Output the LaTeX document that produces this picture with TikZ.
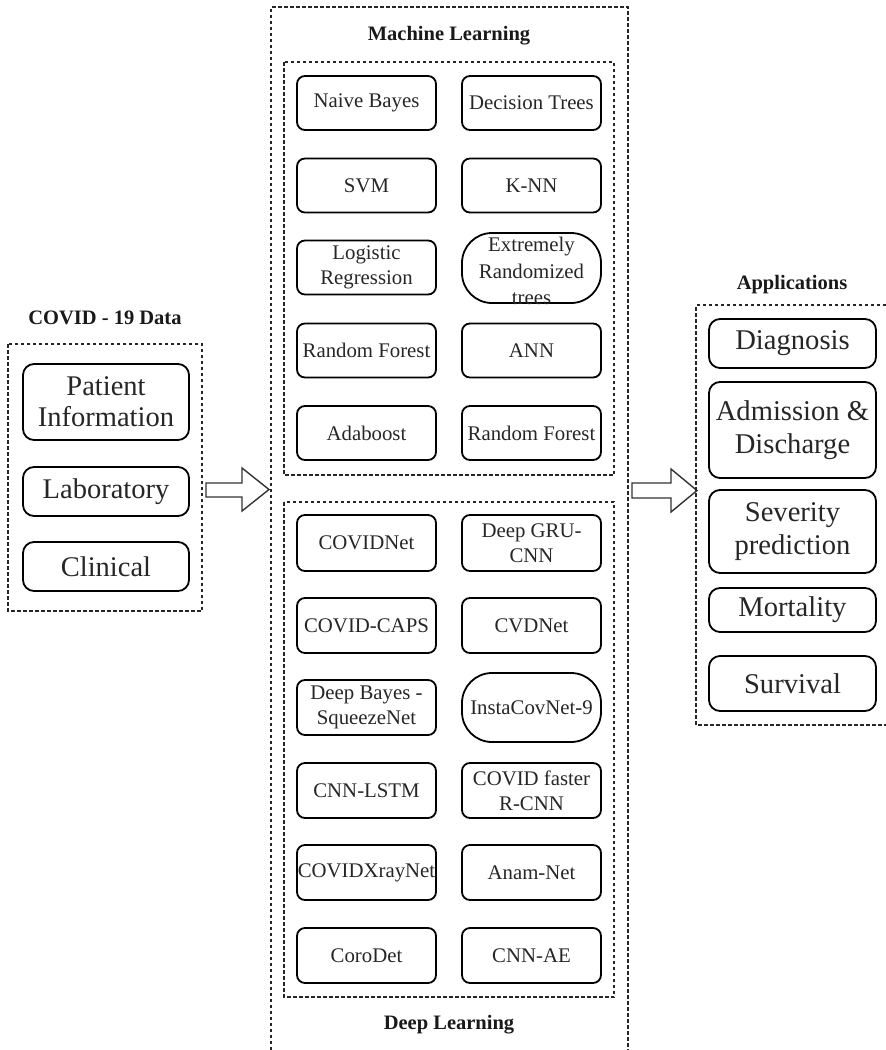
\documentclass[tikz,border=0pt]{standalone}
\usepackage{fontspec}
\setmainfont{Liberation Serif}
\begin{document}
\begin{tikzpicture}[x=1pt,y=-1pt,
  grp/.style={draw=black!85, line width=1.2pt, dash pattern=on 3.5pt off 2.5pt},
  mlbox/.style={draw=black, line width=1.8pt, rounded corners=8pt, inner sep=0pt,
    minimum width=139pt, minimum height=54pt, align=center,
    font=\fontsize{20.8}{25}\selectfont, text=black!85},
  pill/.style={mlbox, rounded corners=30pt},
  databox/.style={draw=black, line width=1.8pt, rounded corners=11pt, inner sep=0pt,
    minimum width=166pt, align=center, font=\fontsize{28.5}{31}\selectfont, text=black!85},
  appbox/.style={draw=black, line width=1.8pt, rounded corners=11pt, inner sep=0pt,
    minimum width=167pt, align=center, font=\fontsize{28.6}{33}\selectfont, text=black!85},
  ttl/.style={font=\fontsize{20.5}{24}\selectfont\bfseries, text=black!90},
  blockarrow/.style={draw=black!80, line width=1.4pt, fill=white, line join=miter}]
\useasboundingbox (0,0) rectangle (886,1050);

% ---------- COVID-19 data ----------
\node[ttl] (tdata) at (105,318) {COVID - 19 Data};
\draw[grp] (8,344) rectangle (202,611);
\node[databox, minimum height=76pt] (patient) at (106,402) {Patient\\Information};
\node[databox, minimum height=49pt] (lab) at (106,491.5) {Laboratory};
\node[databox, minimum height=49pt] (clin) at (106,566.5) {Clinical};

% ---------- arrow 1 ----------
\draw[blockarrow] (206,483) -- (242,483) -- (242,468) -- (269,489.5) -- (242,511) -- (242,497) -- (206,497) -- cycle;

% ---------- ML / DL outer ----------
\draw[grp] (271,1050) -- (271,7) -- (628,7) -- (628,1050);
\node[ttl] (tml) at (449,36) {Machine Learning};
\node[ttl] (tdl) at (449,1025) {Deep Learning};
\draw[grp] (284,62) rectangle (614,475);
\draw[grp] (284,502) rectangle (614,997);

% ML boxes
\node[mlbox] (nb) at (366.5,103) {Naive Bayes};
\node[mlbox] (dt) at (531.5,103) {Decision Trees};
\node[mlbox] (svm) at (366.5,185.5) {SVM};
\node[mlbox] (knn) at (531.5,185.5) {K-NN};
\node[mlbox] (lr) at (366.5,267.5) {Logistic\\Regression};
\node[pill, minimum height=70pt] (ert) at (531.5,268) {};
\node[font=\fontsize{20.8}{26.5}\selectfont, text=black!85, align=center, inner sep=0pt] (ertt) at (531.5,271) {Extremely\\Randomized\\trees};
\node[mlbox] (rf1) at (366.5,350.5) {Random Forest};
\node[mlbox] (ann) at (531.5,350.5) {ANN};
\node[mlbox] (ada) at (366.5,433) {Adaboost};
\node[mlbox] (rf2) at (531.5,433) {Random Forest};

% DL boxes
\node[mlbox, minimum height=56pt] (covidnet) at (366.5,543) {COVIDNet};
\node[mlbox, minimum height=56pt] (gru) at (531.5,543) {Deep GRU-\\CNN};
\node[mlbox, minimum height=55pt] (caps) at (366.5,625.5) {COVID-CAPS};
\node[mlbox, minimum height=55pt] (cvd) at (531.5,625.5) {CVDNet};
\node[mlbox, minimum height=55pt] (dbs) at (366.5,707.5) {Deep Bayes -\\SqueezeNet};
\node[pill, minimum height=69pt] (insta) at (531.5,707.5) {InstaCovNet-9};
\node[mlbox, minimum height=55pt] (cnnlstm) at (366.5,790.5) {CNN-LSTM};
\node[mlbox, minimum height=55pt] (frcnn) at (531.5,790.5) {COVID faster\\R-CNN};
\node[mlbox, minimum height=55pt] (xray) at (366.5,872.5) {COVIDXrayNet};
\node[mlbox, minimum height=55pt] (anam) at (531.5,872.5) {Anam-Net};
\node[mlbox, minimum height=55pt] (coro) at (366.5,955.5) {CoroDet};
\node[mlbox, minimum height=55pt] (cnnae) at (531.5,955.5) {CNN-AE};

% ---------- arrow 2 ----------
\draw[blockarrow] (632,483) -- (671,483) -- (671,469) -- (697,490.5) -- (671,512) -- (671,498) -- (632,498) -- cycle;

% ---------- Applications ----------
\node[ttl] (tapp) at (792,285) {Applications};
\draw[grp] (886,305) -- (696,305) -- (696,725) -- (886,725);
\node[appbox, minimum height=49pt] (diag) at (792.5,343.5) {Diagnosis};
\node[appbox, minimum height=96pt] (adm) at (792.5,430) {Admission \&\\Discharge};
\node[appbox, minimum height=83pt] (sev) at (792.5,531.5) {Severity\\prediction};
\node[appbox, minimum height=44pt] (mort) at (792.5,610) {Mortality};
\node[appbox, minimum height=55pt] (surv) at (792.5,683.5) {Survival};
\end{tikzpicture}
\end{document}
